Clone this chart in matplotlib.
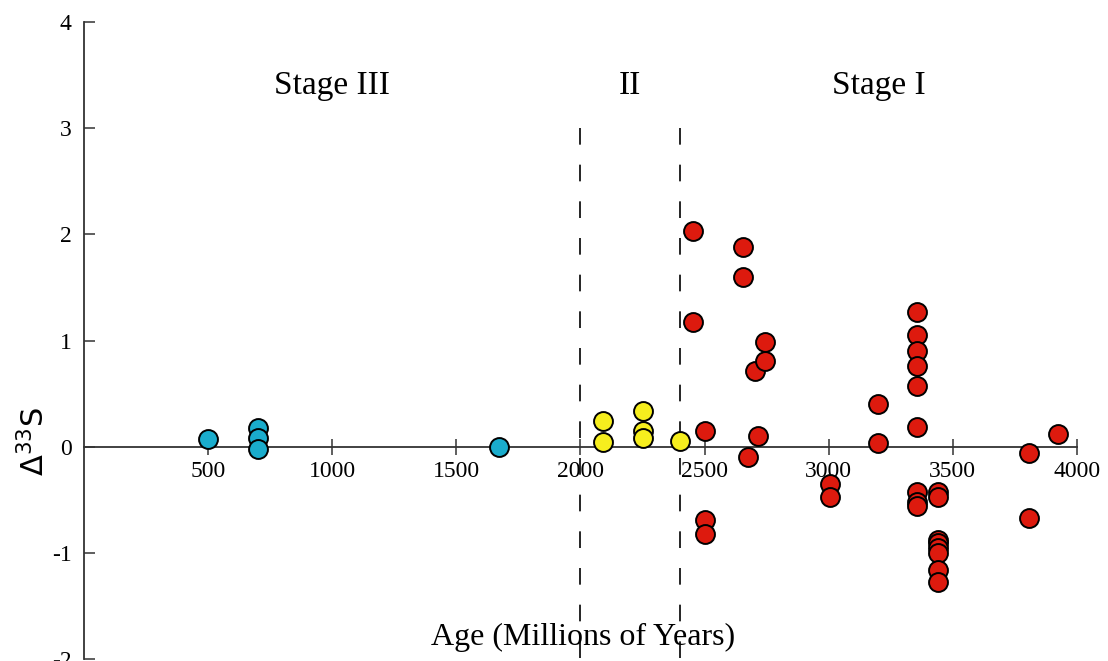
import matplotlib
matplotlib.use("Agg")
import matplotlib.pyplot as plt

plt.rcParams["font.family"] = ["Liberation Serif", "DejaVu Serif"]

# Stage III (blue), Stage II (yellow), Stage I (red): age in Myr, Delta-33S
blue_age = [500, 700, 700, 700, 1670]
blue_d33 = [0.07, 0.18, 0.08, -0.02, 0.0]

yellow_age = [2090, 2090, 2250, 2250, 2250, 2400]
yellow_d33 = [0.24, 0.04, 0.34, 0.15, 0.08, 0.05]

red_age = [2455, 2455, 2500, 2500, 2500,
           2655, 2655, 2675, 2705, 2715, 2745, 2745,
           3005, 3005,
           3200, 3200,
           3355, 3355, 3355, 3355, 3355, 3355,
           3355, 3355, 3355,
           3440, 3440, 3440, 3440, 3440, 3440, 3440, 3440,
           3805, 3805, 3925]
red_d33 = [2.03, 1.17, 0.15, -0.69, -0.82,
           1.88, 1.60, -0.10, 0.71, 0.10, 0.99, 0.81,
           -0.35, -0.47,
           0.40, 0.03,
           1.27, 1.05, 0.90, 0.76, 0.57, 0.19,
           -0.43, -0.52, -0.56,
           -0.43, -0.47, -0.88, -0.91, -0.95, -1.00, -1.16, -1.27,
           -0.06, -0.67, 0.12]

stage_bounds = [2000, 2400]
stage_names = ["Stage III", "II", "Stage I"]
stage_label_x = [1000, 2200, 3200]

xticks = [500, 1000, 1500, 2000, 2500, 3000, 3500, 4000]
yticks = [-2, -1, 0, 1, 2, 3, 4]

fig = plt.figure(figsize=(11.08, 6.61), dpi=100)
ax = fig.add_axes([0.0758, 0.003, 0.8962, 0.9637])

for xb in stage_bounds:
    ln, = ax.plot([xb, xb], [3, -2], color="black", lw=1.2, zorder=1)
    ln.set_dashes((10, 12))

mk = dict(s=185, edgecolors="black", linewidths=1.4, zorder=3, clip_on=False)
ax.scatter(blue_age, blue_d33, c="#1aaccc", **mk)
ax.scatter(yellow_age, yellow_d33, c="#f6ee1e", **mk)
ax.scatter(red_age, red_d33, c="#dd1a0e", **mk)

for name, xs in zip(stage_names, stage_label_x):
    ax.text(xs, 3.4, name, fontsize=24, ha="center", va="center")

ax.set_xlim(0, 4000)
ax.set_ylim(-2, 4)
ax.spines["left"].set_position(("data", 0))
ax.spines["bottom"].set_position(("data", 0))
ax.spines["top"].set_visible(False)
ax.spines["right"].set_visible(False)
for sp in ("left", "bottom"):
    ax.spines[sp].set_color("#333333")
    ax.spines[sp].set_linewidth(1.3)

ax.set_xticks(xticks)
ax.set_yticks(yticks)
ax.set_yticklabels([str(v) for v in yticks])
ax.tick_params(axis="x", direction="inout", length=12, width=1.1,
               labelsize=17, pad=4, color="#333333")
ax.tick_params(axis="y", direction="in", length=8, width=1.1,
               labelsize=17, pad=9, color="#333333")

ax.text(-200, 0.05, r"$\Delta^{33}$S", rotation=90, fontsize=22,
        ha="center", va="center", family="DejaVu Sans")
ax.text(2010, -1.8, "Age (Millions of Years)", fontsize=23,
        ha="center", va="center")

fig.savefig("out.png", dpi=100, facecolor="white")
